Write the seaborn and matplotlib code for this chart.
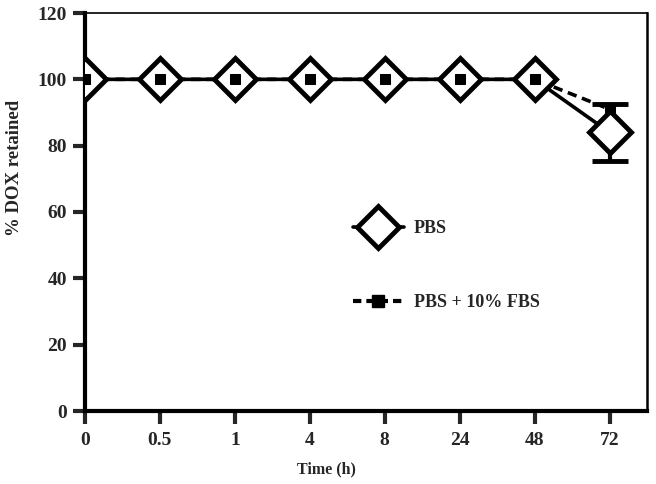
import matplotlib
matplotlib.use("Agg")
import matplotlib.pyplot as plt
import seaborn as sns
import pandas as pd
import numpy as np
from matplotlib.lines import Line2D

time_labels = ["0", "0.5", "1", "4", "8", "24", "48", "72"]
pbs = [100, 100, 100, 100, 100, 100, 100, 84]
pbs_err = [0, 0, 0, 0, 0, 0, 0, 8.5]
fbs = [100, 100, 100, 100, 100, 100, 100, 91]

sns.set_theme(style="ticks")
plt.rcParams['font.family'] = ['Liberation Serif', 'DejaVu Serif']
plt.rcParams['font.weight'] = 'bold'

pos = np.arange(len(time_labels))
df = pd.DataFrame({
    "pos": np.concatenate([pos, pos]),
    "val": pbs + fbs,
    "series": ["PBS"] * len(pos) + ["PBS + 10% FBS"] * len(pos),
})

fig = plt.figure(figsize=(6.56, 4.84), dpi=100)
ax = fig.add_axes([85 / 656, 1 - 411 / 484, 562 / 656, 398 / 484])

d1 = df[df.series == "PBS"]
d2 = df[df.series == "PBS + 10% FBS"]

ax.errorbar(pos, pbs, yerr=pbs_err, fmt="none", ecolor="black",
            elinewidth=3, capsize=13, capthick=3.5, zorder=2)

sns.lineplot(data=d2, x="pos", y="val", ax=ax, color="black", linewidth=2.6,
             linestyle=(0, (2.6, 1.6)), label="_nolegend_", zorder=2)
sns.lineplot(data=d1, x="pos", y="val", ax=ax, color="black", linewidth=2.6,
             marker="D", markersize=21, markerfacecolor="white",
             markeredgecolor="black", markeredgewidth=3.5, label="_nolegend_",
             zorder=3)
sns.lineplot(data=d2, x="pos", y="val", ax=ax, color="black", linewidth=0,
             marker="s", markersize=7.5, markerfacecolor="black",
             markeredgecolor="black", label="_nolegend_", zorder=4)

ax.set_xlim(0, 7.5)
ax.set_ylim(0, 120)
ax.set_xticks(pos)
ax.set_xticklabels(time_labels)
ax.set_yticks([0, 20, 40, 60, 80, 100, 120])
ax.set_xlabel("Time (h)", fontsize=11.5, fontweight="bold")
ax.set_ylabel("% DOX retained", fontsize=13.5, fontweight="bold")
ax.xaxis.set_label_coords(0.429, -0.126)
ax.yaxis.set_label_coords(-0.110, 0.61)
ax.tick_params(axis="both", labelsize=14, width=3, length=9, direction="out")
ax.tick_params(axis="x", pad=6)
ax.tick_params(axis="y", pad=4)
for lab in ax.get_xticklabels() + ax.get_yticklabels():
    lab.set_fontweight("bold")

ax.spines["left"].set_linewidth(3)
ax.spines["bottom"].set_linewidth(3)
ax.spines["top"].set_linewidth(1.2)
ax.spines["right"].set_linewidth(1.8)
for s in ax.spines.values():
    s.set_color("black")

h_pbs = Line2D([], [], color="black", linewidth=2.6, marker="D", markersize=21,
               markerfacecolor="white", markeredgecolor="black",
               markeredgewidth=3.5)
h_fbs = Line2D([], [], color="black", linewidth=3, linestyle=(0, (2.0, 1.2)),
               marker="s", markersize=8, markerfacecolor="black",
               markeredgecolor="black")
leg = ax.legend([h_pbs, h_fbs], ["PBS", "PBS + 10% FBS"],
                loc="upper left", bbox_to_anchor=(0.477, 0.48), frameon=False,
                borderpad=0, borderaxespad=0,
                handlelength=2.8, handletextpad=0.55, labelspacing=3.15,
                prop={"weight": "bold", "size": 13})
fig.savefig("out.png", dpi=100)
